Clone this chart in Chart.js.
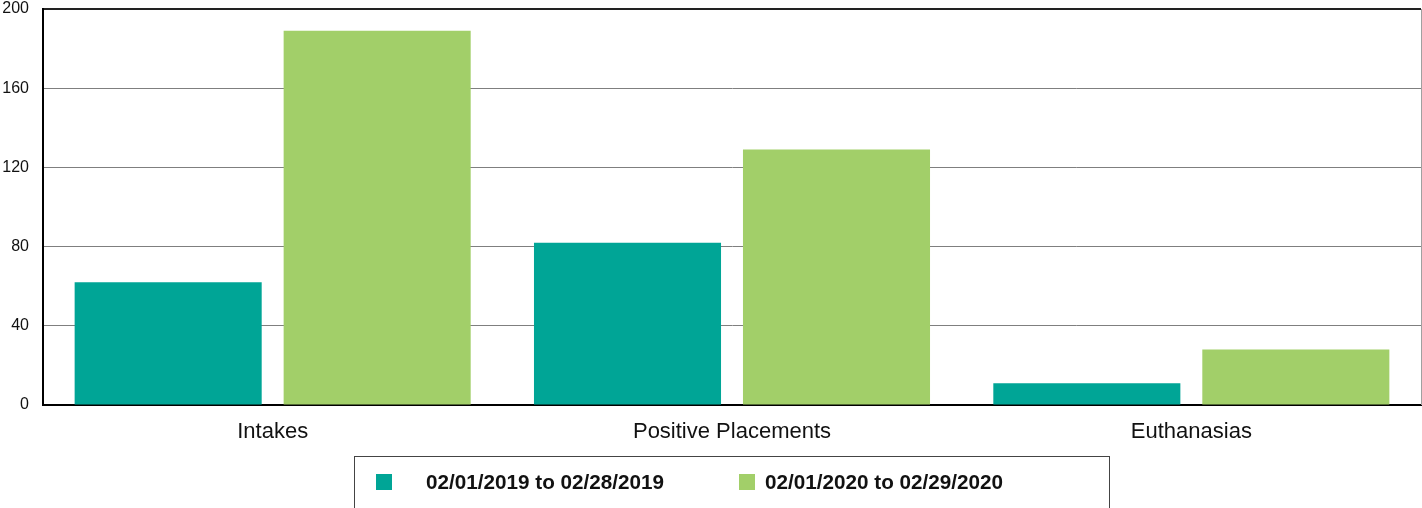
<!DOCTYPE html>
<html>
<head>
<meta charset="utf-8">
<script src="https://cdn.jsdelivr.net/npm/chart.js@4/dist/chart.umd.min.js"></script>
<style>
  html, body { margin: 0; padding: 0; background: #fff; }
  #wrap { position: relative; width: 1422px; height: 508px; overflow: hidden; }
  #myChart { display: block; margin-top: -13px; }
  #legend {
    position: absolute; left: 354px; top: 456px; width: 756px; height: 70px;
    border: 1px solid #444; box-sizing: border-box;
    font-family: "Liberation Sans", Arial, sans-serif; font-weight: bold; font-size: 20.7px; color: #111;
  }
  .item { position: absolute; top: 16px; display: flex; align-items: center; height: 18px; }
  .swatch { width: 16px; height: 16px; margin-right: 34px; }
</style>
</head>
<body>
<div id="wrap">
  <canvas id="myChart" width="1422" height="521"></canvas>
  <div id="legend"></div>
</div>
<script>
// Chart data
const categories = ['Intakes', 'Positive Placements', 'Euthanasias'];
const seriesNames = ['02/01/2019 to 02/28/2019', '02/01/2020 to 02/29/2020'];
const values2019 = [62, 82, 11];
const values2020 = [189, 129, 28];
const yTicks = [0, 40, 80, 120, 160, 200];

const colors = ['rgb(0, 165, 150)', 'rgb(162, 207, 105)'];

// Right frame line of the plot
const rightBorder = {
  id: 'rightBorder',
  afterDraw(chart) {
    const { ctx, chartArea } = chart;
    ctx.save();
    ctx.strokeStyle = '#a0a0a0';
    ctx.lineWidth = 1;
    ctx.beginPath();
    ctx.moveTo(chartArea.right + 0.5, chartArea.top);
    ctx.lineTo(chartArea.right + 0.5, chartArea.bottom);
    ctx.stroke();
    ctx.restore();
  }
};

const ctx = document.getElementById('myChart').getContext('2d');
Chart.defaults.font.family = '"Liberation Sans", Arial, sans-serif';

const chart = new Chart(ctx, {
  type: 'bar',
  data: {
    labels: categories,
    datasets: [{
      label: seriesNames[0],
      data: values2019,
      backgroundColor: colors[0]
    }, {
      label: seriesNames[1],
      data: values2020,
      backgroundColor: colors[1]
    }]
  },
  options: {
    responsive: false,
    animation: false,
    categoryPercentage: 0.91,
    barPercentage: 0.895,
    plugins: {
      legend: { display: false },
      tooltip: { enabled: false }
    },
    layout: {
      padding: { left: 2, right: 1, top: 0, bottom: 0 }
    },
    scales: {
      x: {
        afterFit: (axis) => { axis.height = 103; },
        grid: { display: false },
        border: { color: '#000', width: 2 },
        ticks: { color: '#111', font: { size: 22 }, padding: 6 }
      },
      y: {
        min: 0,
        max: 200,
        afterBuildTicks: (axis) => { axis.ticks = yTicks.map(v => ({ value: v })); },
        afterFit: (axis) => { axis.width = 41; },
        grid: {
          color: (c) => (c.tick && (c.tick.value === 200)) ? '#222' : '#7f7f7f',
          lineWidth: (c) => (c.tick && (c.tick.value === 200)) ? 2 : 1,
          drawTicks: false
        },
        border: { color: '#000', width: 2 },
        ticks: { color: '#111', font: { size: 16, lineHeight: 1 }, padding: 14 }
      }
    }
  },
  plugins: [rightBorder]
});

// HTML legend built from the datasets
const legendEl = document.getElementById('legend');
const itemLeft = [21, 384];
chart.data.datasets.forEach((ds, i) => {
  const item = document.createElement('div');
  item.className = 'item';
  item.style.left = itemLeft[i] + 'px';
  const sw = document.createElement('span');
  sw.className = 'swatch';
  sw.style.background = ds.backgroundColor;
  if (i === 1) sw.style.marginRight = '10px';
  const txt = document.createElement('span');
  txt.textContent = ds.label;
  item.appendChild(sw);
  item.appendChild(txt);
  legendEl.appendChild(item);
});
</script>
</body>
</html>
